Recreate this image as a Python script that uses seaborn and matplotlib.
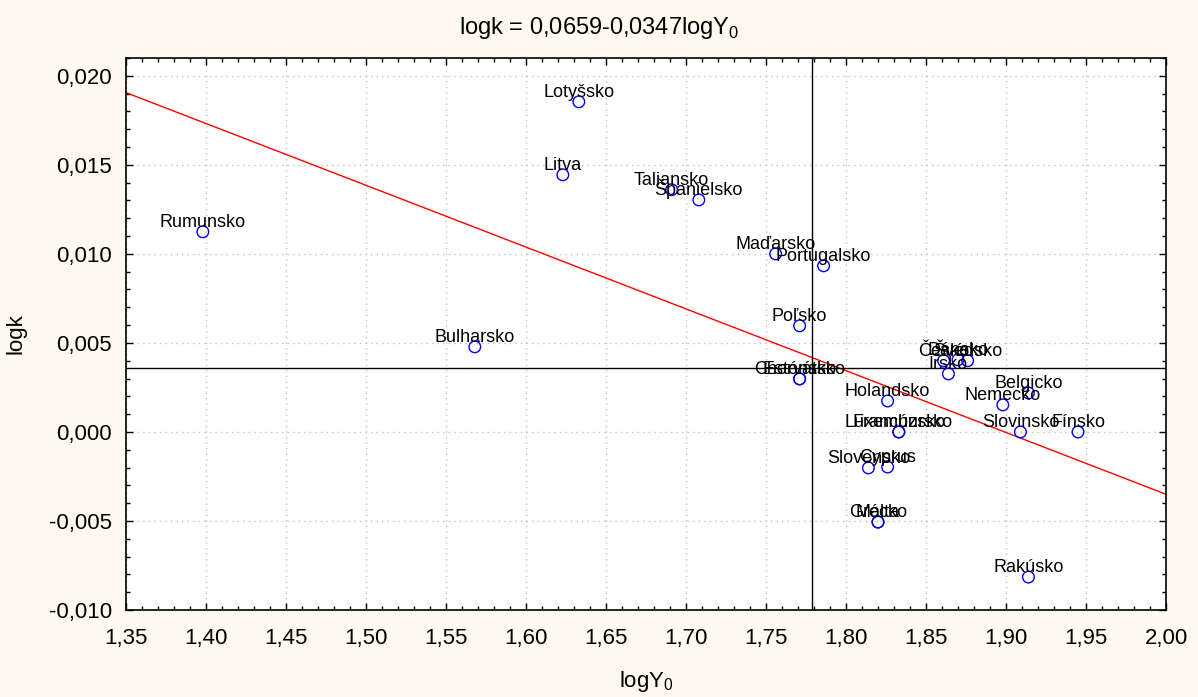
import numpy as np
import pandas as pd
import matplotlib
matplotlib.use("Agg")
import matplotlib.pyplot as plt
import seaborn as sns
from matplotlib.ticker import MultipleLocator, FuncFormatter

# --- data ---
countries = ["Rumunsko", "Bulharsko", "Lotyšsko", "Litva", "Taliansko", "Španielsko",
             "Maďarsko", "Portugalsko", "Poľsko", "Estónsko", "Chorvátsko",
             "Česko", "Dánsko", "Švédsko", "Írsko", "Holandsko", "Belgicko",
             "Nemecko", "Slovinsko", "Fínsko", "Luxembursko", "Francúzsko",
             "Slovensko", "Cyprus", "Grécko", "Malta", "Rakúsko"]
log_y0 = [1.398, 1.568, 1.633, 1.623, 1.691, 1.708,
          1.756, 1.786, 1.771, 1.771, 1.771,
          1.861, 1.870, 1.876, 1.864, 1.826, 1.914,
          1.898, 1.909, 1.945, 1.833, 1.833,
          1.814, 1.826, 1.820, 1.820, 1.914]
log_k = [0.01124, 0.00478, 0.01854, 0.01444, 0.01360, 0.01303,
         0.01000, 0.00933, 0.00596, 0.00298, 0.00298,
         0.00400, 0.00405, 0.00400, 0.00326, 0.00174, 0.00219,
         0.00152, 0.00000, 0.00000, 0.00000, 0.00000,
         -0.00202, -0.00197, -0.00506, -0.00506, -0.00815]

# fitted model from the title and the two reference lines
intercept = 0.0659
slope = -0.0347
ref_x = 1.779
ref_y = 0.0036

x_range = [1.35, 2.00]
y_range = [-0.010, 0.021]

df = pd.DataFrame({"country": countries, "logY0": log_y0, "logk": log_k})
fit = pd.DataFrame({"logY0": x_range})
fit["logk"] = intercept + slope * fit["logY0"]

sns.set_style("ticks")
plt.rcParams["font.family"] = ["Liberation Sans", "DejaVu Sans"]
plt.rcParams["mathtext.fontset"] = "custom"
plt.rcParams["mathtext.rm"] = "Liberation Sans"
for key in ["text.color", "axes.labelcolor", "xtick.color", "ytick.color"]:
    plt.rcParams[key] = "black"

bg = "#fffaef"
fig = plt.figure(figsize=(11.98, 6.97), dpi=100, facecolor=bg)
ax = fig.add_axes([0.1052, 0.1248, 0.8681, 0.792])
ax.set_facecolor("white")

sns.lineplot(data=fit, x="logY0", y="logk", color="red", linewidth=1, ax=ax)
ax.axvline(ref_x, color="black", linewidth=1)
ax.axhline(ref_y, color="black", linewidth=1)

sns.scatterplot(data=df, x="logY0", y="logk", s=70, color="blue", ax=ax, zorder=3)
pts = ax.collections[-1]
pts.set_facecolor("none")
pts.set_edgecolor("blue")
pts.set_linewidth(1)

for _, r in df.iterrows():
    ax.annotate(r["country"], (r["logY0"], r["logk"]), xytext=(0, 3.5),
                textcoords="offset points", ha="center", va="baseline",
                fontsize=13, color="black", zorder=4)

ax.set_xlim(*x_range)
ax.set_ylim(*y_range)
ax.xaxis.set_major_locator(MultipleLocator(0.05))
ax.xaxis.set_minor_locator(MultipleLocator(0.01))
ax.yaxis.set_major_locator(MultipleLocator(0.005))
ax.yaxis.set_minor_locator(MultipleLocator(0.001))


def comma(fmt):
    def f(v, pos):
        s = fmt.format(v)
        if s.startswith("-") and float(s) == 0:
            s = s[1:]
        return s.replace(".", ",")
    return FuncFormatter(f)


ax.xaxis.set_major_formatter(comma("{:.2f}"))
ax.yaxis.set_major_formatter(comma("{:.3f}"))

ax.grid(True, which="major", linestyle=(0, (1, 3)), color="#c0c0c0", linewidth=1)
ax.tick_params(which="both", direction="in", top=True, right=True, colors="black",
               labelsize=16, width=1)
ax.tick_params(which="major", length=5)
ax.tick_params(axis="x", which="major", pad=13)
ax.tick_params(axis="y", which="major", pad=10)
ax.tick_params(which="minor", length=3)
for sp in ax.spines.values():
    sp.set_visible(True)
    sp.set_color("black")
    sp.set_linewidth(1.2)

ax.set_xlabel(r"logY$_\mathregular{0}$", fontsize=16, labelpad=14)
ax.set_ylabel("logk", fontsize=16, labelpad=16)
fig.suptitle(r"logk = 0,0659-0,0347logY$_\mathregular{0}$", fontsize=17, y=0.978)

fig.savefig("out.png", dpi=100, facecolor=bg)
